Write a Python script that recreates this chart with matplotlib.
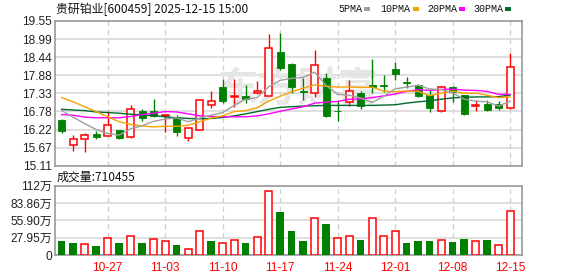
import numpy as np
import matplotlib.pyplot as plt
from matplotlib.patches import Rectangle

plt.rcParams['font.family'] = ['Liberation Sans', 'Noto Sans CJK SC']

title = '贵研铂业[600459] 2025-12-15 15:00'
vol_title = '成交量:710455'

# daily k-line, 2025-10-21 .. 2025-12-15
opens = [16.51, 15.73, 15.93, 16.08, 16.01, 16.20, 16.00, 16.79, 16.79, 16.65,
         16.59, 15.95, 16.22, 16.98, 17.51, 17.21, 17.24, 17.33, 17.24, 18.59,
         18.23, 17.40, 17.33, 17.79, 16.80, 17.05, 17.33, 17.58, 17.58, 18.07,
         17.67, 17.60, 17.28, 16.80, 17.51, 17.28, 16.95, 17.00, 16.99, 16.87]
highs = [16.53, 16.05, 16.10, 16.17, 16.79, 16.22, 16.97, 16.84, 17.15, 16.68,
         16.68, 16.26, 17.14, 17.40, 17.77, 17.77, 17.60, 17.71, 19.15, 19.19,
         18.27, 17.79, 18.66, 17.94, 17.14, 17.74, 17.41, 18.37, 17.89, 18.28,
         17.82, 17.63, 17.48, 17.55, 17.56, 17.28, 17.12, 17.14, 17.09, 18.58]
lows = [16.12, 15.57, 15.52, 15.93, 16.01, 15.92, 15.97, 16.49, 16.61, 16.15,
        16.03, 15.88, 16.20, 16.89, 17.02, 16.92, 17.02, 17.31, 17.24, 18.04,
        17.33, 17.12, 17.23, 16.61, 16.49, 16.95, 16.85, 17.35, 17.38, 17.74,
        17.48, 17.21, 16.77, 16.75, 17.07, 16.68, 16.80, 16.80, 16.82, 16.84]
closes = [16.19, 15.92, 16.05, 16.00, 16.35, 15.95, 16.84, 16.58, 16.64, 16.68,
          16.15, 16.26, 17.12, 17.08, 17.10, 17.26, 17.17, 17.40, 18.71, 18.12,
          17.53, 17.36, 18.20, 16.63, 16.78, 17.39, 16.95, 17.51, 17.57, 17.92,
          17.66, 17.26, 16.89, 17.51, 17.38, 16.69, 16.96, 16.82, 16.87, 18.13]
# volume in 万 shares
volume = [22.3, 19.0, 18.5, 15.2, 27.7, 19.0, 29.9, 19.0, 26.0, 23.4,
          16.8, 10.3, 38.0, 22.3, 20.0, 24.5, 19.0, 28.3, 102.7, 69.6,
          38.6, 23.4, 60.3, 49.5, 27.7, 31.0, 25.0, 60.3, 31.0, 39.1,
          20.1, 23.4, 23.4, 24.5, 21.7, 26.6, 22.8, 25.0, 16.3, 71.0455]

ma5 = [16.80, 16.60, 16.40, 16.22, 16.10, 16.05, 16.24, 16.34, 16.47, 16.54,
       16.58, 16.46, 16.57, 16.66, 16.74, 16.96, 17.15, 17.20, 17.53, 17.73,
       17.79, 17.82, 17.98, 17.57, 17.30, 17.27, 17.19, 17.05, 17.24, 17.47,
       17.52, 17.58, 17.46, 17.45, 17.34, 17.15, 17.09, 17.07, 16.94, 17.09]
ma10 = [17.20, 17.07, 16.92, 16.77, 16.61, 16.46, 16.38, 16.33, 16.30, 16.32,
        16.32, 16.35, 16.46, 16.57, 16.64, 16.77, 16.80, 16.89, 17.09, 17.24,
        17.38, 17.49, 17.59, 17.55, 17.52, 17.53, 17.51, 17.52, 17.40, 17.38,
        17.40, 17.39, 17.26, 17.34, 17.40, 17.33, 17.34, 17.27, 17.20, 17.22]
ma20 = [16.68, 16.66, 16.60, 16.58, 16.58, 16.58, 16.62, 16.68, 16.72, 16.77,
        16.76, 16.70, 16.64, 16.62, 16.61, 16.61, 16.61, 16.64, 16.70, 16.78,
        16.85, 16.92, 17.03, 17.06, 17.08, 17.15, 17.16, 17.20, 17.25, 17.31,
        17.39, 17.44, 17.42, 17.45, 17.46, 17.43, 17.42, 17.39, 17.30, 17.30]
ma30 = [16.84, 16.82, 16.80, 16.76, 16.74, 16.72, 16.69, 16.67, 16.65, 16.61,
        16.58, 16.56, 16.55, 16.56, 16.59, 16.64, 16.70, 16.77, 16.84, 16.90,
        16.92, 16.94, 16.95, 16.96, 16.96, 16.96, 16.96, 16.96, 16.97, 16.98,
        17.03, 17.07, 17.10, 17.15, 17.19, 17.21, 17.22, 17.22, 17.23, 17.28]

tick_idx = [4, 9, 14, 19, 24, 29, 34, 39]
tick_labels = ['10-27', '11-03', '11-10', '11-17', '11-24', '12-01', '12-08', '12-15']
price_labels = ['15.11', '15.67', '16.22', '16.78', '17.33', '17.88', '18.44', '18.99', '19.55']
vol_ticks = [0, 27.95, 55.90, 83.86, 112]
vol_labels = ['0', '27.95万', '55.90万', '83.86万', '112万']

RED = '#ff0000'
GREEN = '#008000'
MA_COLORS = ['#a0a0a0', '#f5a300', '#ff00ff', '#006b2e']
GRID = '#d6d6d6'
W, H = 578, 276

fig = plt.figure(figsize=(W / 100, H / 100), dpi=100)
axp = fig.add_axes([55 / W, 1 - 165.7 / H, 467 / W, 144.7 / H])
axv = fig.add_axes([55 / W, 1 - 255 / H, 467 / W, 69.3 / H])

n = len(closes)
x = np.arange(n)
pmin, pmax = float(price_labels[0]), float(price_labels[-1])

for ax in (axp, axv):
    ax.set_xlim(-0.58, 40.03)
    ax.set_xticks(tick_idx)
    for s in ax.spines.values():
        s.set_color('#999999')
        s.set_linewidth(1.2)
    ax.tick_params(length=0, labelsize=8.6, colors='#222222', pad=2)
    for t in tick_idx:
        ax.axvline(t, color='#cfcfcf', lw=0.9, ls=(0, (4, 3)), zorder=0)

# price panel
axp.set_ylim(pmin, pmax)
axp.set_yticks(np.linspace(pmin, pmax, len(price_labels)))
axp.set_yticklabels(price_labels)
axp.set_xticklabels([])
for yv in np.linspace(pmin, pmax, len(price_labels)):
    axp.axhline(yv, color=GRID, lw=1.1, zorder=0)

# faint site watermark
axp.text(20.6, 17.45, '东方财富', ha='center', va='center', fontsize=29,
         family=['Noto Sans CJK SC'], fontweight='bold', color='#e6e6e6', zorder=0.5)

bw = 0.62
for i in range(n):
    o, h, l, c = opens[i], highs[i], lows[i], closes[i]
    if c >= o:
        axp.vlines(i, c, h, color=RED, lw=1.0, zorder=2)
        axp.vlines(i, l, o, color=RED, lw=1.0, zorder=2)
        axp.add_patch(Rectangle((i - bw / 2, o), bw, max(c - o, 0.004),
                                fc='white', ec=RED, lw=1.1, zorder=3))
    else:
        axp.vlines(i, l, h, color=GREEN, lw=1.0, zorder=2)
        axp.add_patch(Rectangle((i - bw / 2, c), bw, max(o - c, 0.004),
                                fc=GREEN, ec=GREEN, lw=0.6, zorder=3))

for ma, col in zip([ma30, ma20, ma10, ma5], MA_COLORS[::-1]):
    axp.plot(x, ma, color=col, lw=1.0, zorder=4)

# volume panel
axv.set_ylim(0, 112)
axv.set_yticks(vol_ticks)
axv.set_yticklabels(vol_labels)
axv.set_xticklabels(tick_labels)
axv.tick_params(axis='x', colors=RED, pad=5)
for yv in vol_ticks:
    axv.axhline(yv, color=GRID, lw=1.1, zorder=0)
for i in range(n):
    up = i > 0 and closes[i] >= closes[i - 1]
    if up:
        axv.bar(i, volume[i], width=bw, facecolor='white', edgecolor=RED, lw=1.1, zorder=3)
    else:
        axv.bar(i, volume[i], width=0.64, color=GREEN, zorder=3)

# header texts
fig.text(55.5 / W, 1 - 9.5 / H, title, ha='left', va='center', fontsize=8.6,
         family=['Noto Sans CJK SC'], color='#111111')
fig.text(57 / W, 1 - 177.5 / H, vol_title, ha='left', va='center', fontsize=8.6,
         family=['Noto Sans CJK SC'], color='#111111')

legend_names = ['5PMA', '10PMA', '20PMA', '30PMA']
legend_x = [338, 380, 427, 473]
legend_w = [26, 33, 32, 32]
for name, lx, lw_, col in zip(legend_names, legend_x, legend_w, MA_COLORS):
    fig.text(lx / W, 1 - 9.5 / H, name, ha='left', va='center', fontsize=7.2,
             family=['Liberation Mono'], color='#111111')
    fig.patches.append(Rectangle(((lx + lw_) / W, 1 - 11 / H), 5.5 / W, 4 / H,
                                 transform=fig.transFigure, fc=col, ec='none'))

fig.savefig('out.png', dpi=100, facecolor='white')
